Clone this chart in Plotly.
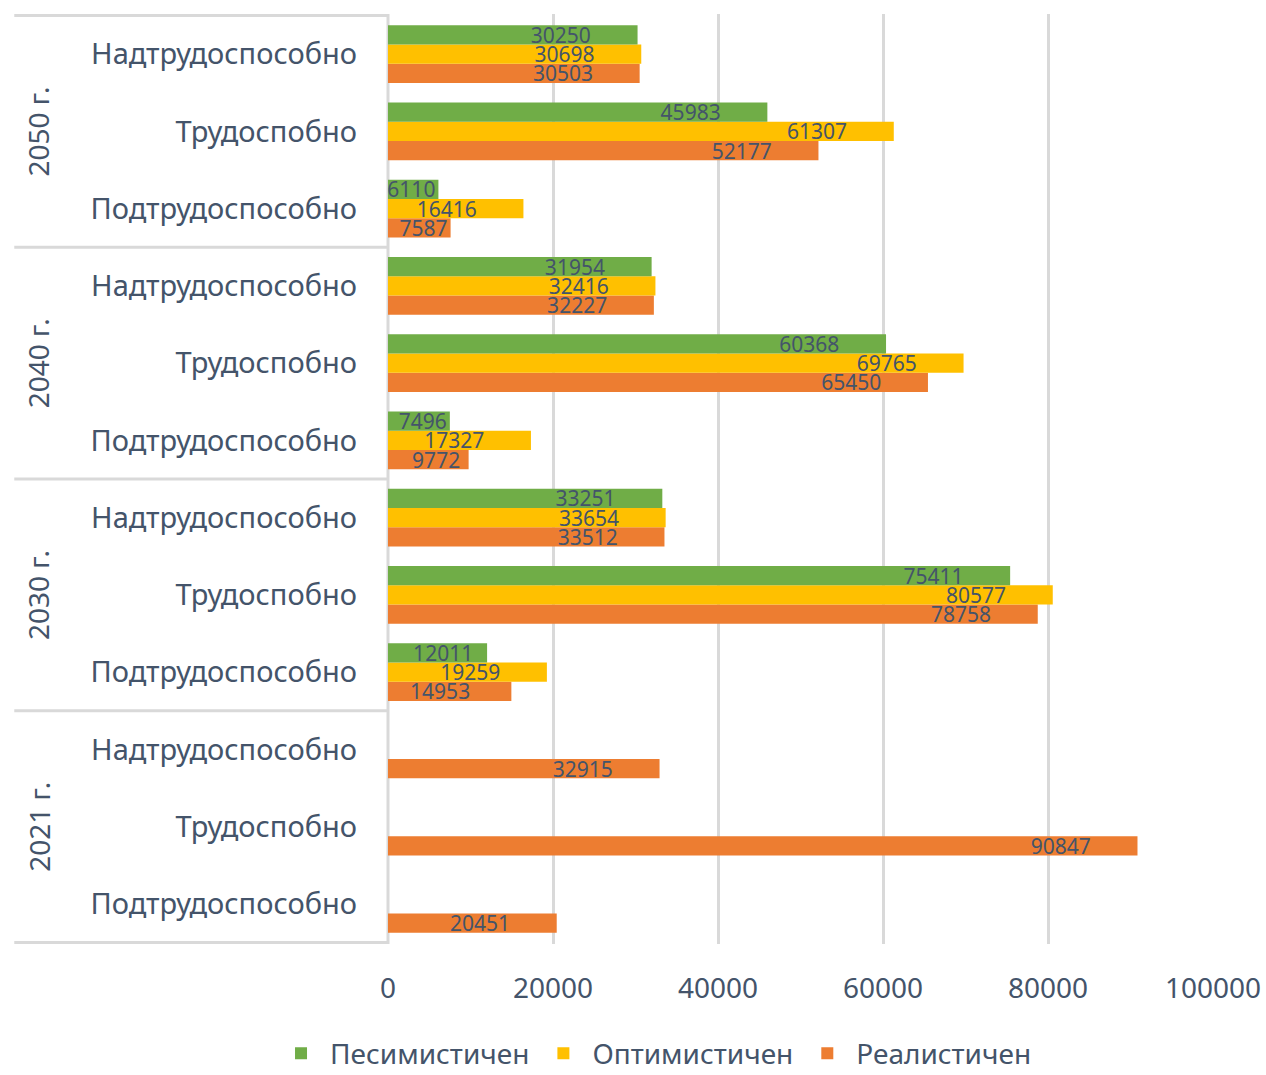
import plotly.graph_objects as go

years = ["2021 г.", "2030 г.", "2040 г.", "2050 г."]
groups = ["Подтрудоспособно", "Трудоспобно", "Надтрудоспособно"]

# values per year, in order of groups
realistic = [20451, 90847, 32915, 14953, 78758, 33512, 9772, 65450, 32227, 7587, 52177, 30503]
optimistic = [None, None, None, 19259, 80577, 33654, 17327, 69765, 32416, 16416, 61307, 30698]
pessimistic = [None, None, None, 12011, 75411, 33251, 7496, 60368, 31954, 6110, 45983, 30250]

series_names = ["Реалистичен", "Оптимистичен", "Песимистичен"]
series_colors = ["#ED7D31", "#FFC000", "#70AD47"]

cats = [f"{y} {g}" for y in years for g in groups]
tick_text = [g for y in years for g in groups]

FONT = "Noto Sans"
TXT = "#44546A"
GRID = "#D9D9D9"
LABEL_SIZE = 21
PX_PER_UNIT = 825 / 100000  # plot width / x range


def label(v):
    """Data label with trailing padding imitating Excel's 'inside end' offset."""
    if v is None:
        return ""
    s = str(v)
    bar_px = v * PX_PER_UNIT
    text_px = len(s) * 0.572 * LABEL_SIZE
    space_px = 0.26 * LABEL_SIZE
    free = bar_px - 3 - 21 - text_px
    n = int(max(0, min(8, free / space_px)))
    return s + "\u00a0" * n


fig = go.Figure()
for name, vals, col in zip(series_names, [realistic, optimistic, pessimistic], series_colors):
    fig.add_trace(go.Bar(
        y=cats, x=vals, name=name, orientation="h",
        marker=dict(color=col, line=dict(width=0)),
        text=[label(v) for v in vals],
        textposition="inside", insidetextanchor="end",
        textfont=dict(color=TXT, size=LABEL_SIZE, family=FONT),
        cliponaxis=False,
    ))

shapes = []
for b in [-0.5, 2.5, 5.5, 8.5, 11.5]:
    shapes.append(dict(type="line", xref="paper", yref="y", x0=-0.453, x1=0, y0=b, y1=b,
                       line=dict(color=GRID, width=3), layer="below"))
shapes.append(dict(type="line", xref="paper", yref="paper", x0=0, x1=0, y0=0, y1=1,
                   line=dict(color=GRID, width=3), layer="below"))

annotations = []
for y in years:
    annotations.append(dict(text=y, xref="paper", yref="y", x=-0.424, y=f"{y} {groups[1]}",
                            textangle=-90, showarrow=False, xanchor="center", yanchor="middle",
                            font=dict(family=FONT, size=28, color=TXT)))

fig.update_layout(
    width=1266, height=1075,
    margin=dict(l=388, r=53, t=14, b=131, autoexpand=False),
    paper_bgcolor="white", plot_bgcolor="white",
    barmode="group", bargap=0.25, bargroupgap=0,
    font=dict(family=FONT, color=TXT),
    uniformtext=dict(minsize=LABEL_SIZE, mode="show"),
    xaxis=dict(range=[0, 100000], dtick=20000, tick0=0, showgrid=True, gridcolor=GRID, gridwidth=2.5,
               zeroline=False, showline=False, ticks="", tickfont=dict(size=28, color=TXT, family=FONT),
               ticklabelstandoff=25, tickformat="d", automargin=False),
    yaxis=dict(type="category", categoryorder="array", categoryarray=cats,
               tickvals=cats, ticktext=tick_text, showgrid=False, zeroline=False, showline=False,
               ticks="", tickfont=dict(size=29, color=TXT, family=FONT), ticklabelstandoff=30,
               automargin=False),
    legend=dict(orientation="h", xref="container", yref="container", x=0.517, y=0.02,
                xanchor="center", yanchor="middle", traceorder="reversed",
                font=dict(size=28, color=TXT, family=FONT), itemwidth=48),
    shapes=shapes, annotations=annotations,
)

fig.write_html("out.html", config={"displayModeBar": False},
               post_script="document.body.style.margin='0';document.body.style.overflow='hidden';")
